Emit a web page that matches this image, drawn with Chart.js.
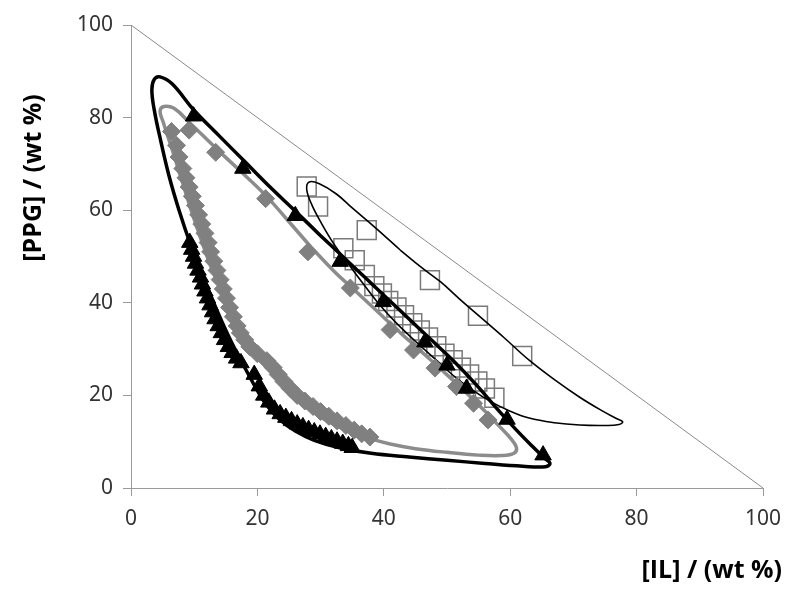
<!DOCTYPE html>
<html lang="en">
<head>
  <meta charset="UTF-8">
  <title>IL / PPG binodal</title>
  <script src="https://cdn.jsdelivr.net/npm/chart.js"></script>
  <style>
    html, body { margin: 0; padding: 0; background: #fff; }
    #wrap { width: 800px; height: 600px; }
  </style>
</head>
<body>
  <div id="wrap"><canvas id="chart" width="800" height="600"></canvas></div>

  <script>
    // [IL] wt%, [PPG] wt%
    const triangles = [
      [9.9, 80.3], [17.7, 69], [26, 58.8], [33.1, 48.9], [39.9, 40.2], [46.5, 31.5],
      [50, 26.5], [53.1, 21.5], [59.5, 14.8], [65.2, 7.1],
      [9.3, 53], [9.6, 51.5], [9.9, 50], [10.2, 48.5], [10.6, 47], [11, 45.5], [11.3, 44],
      [11.7, 42.5], [12.1, 41], [12.5, 39.5], [12.9, 38], [13.3, 36.5], [13.8, 35],
      [14.3, 33.5], [14.8, 32], [15.4, 30.5], [16, 29.2], [16.7, 28], [17.4, 27],
      [19.5, 24.5], [20.3, 22], [21, 20], [21.8, 18.5], [22.7, 17], [23.6, 16], [24.5, 15.2],
      [25.4, 14.5], [26.3, 13.8], [27.2, 13.2], [28.1, 12.6], [29, 12.1], [29.9, 11.6],
      [30.8, 11.1], [31.7, 10.6], [32.6, 10.1], [33.5, 9.6], [34.4, 9.1], [35, 8.7]
    ];
    const diamonds = [
      [6.4, 77], [9.2, 77.3], [13.4, 72.5], [21.3, 62.5], [28, 51], [34.7, 43.2],
      [41, 34.2], [44.7, 29.8], [48.1, 25.9], [51.5, 21.9], [54.2, 18.3], [56.5, 14.7],
      [7.2, 74], [7.6, 71.5], [8.2, 69], [8.7, 67], [9.2, 65], [9.7, 63], [10.2, 61],
      [10.7, 59], [11.2, 57], [11.7, 55], [12.2, 53], [12.6, 51], [13.1, 49], [13.6, 47],
      [14.1, 45], [14.6, 43], [15.1, 41], [15.6, 39], [16.2, 37], [16.8, 35], [17.3, 33.5],
      [18, 32], [18.8, 30.5], [20, 29], [21.5, 27.5], [22.5, 26], [23.3, 24.5], [24.2, 23],
      [25.2, 21.5], [26.3, 20], [27.5, 18.8], [28.8, 17.6], [30, 16.5], [31.3, 15.5],
      [32.6, 14.5], [34, 13.5], [35.3, 12.5], [36.5, 11.7], [37.8, 11]
    ];
    const squares = [
      [27.8, 65.1], [29.6, 60.8], [37.3, 55.7], [33.6, 51.8], [35.4, 49.2], [37, 46],
      [38.5, 43.6], [39.7, 42], [40.7, 40.4], [42, 39], [43.2, 37.3], [44.5, 35.6],
      [45.7, 34], [47, 32.5], [48.3, 30.6], [49.6, 29], [50.9, 27.6], [52.2, 26],
      [53.5, 24.5], [54.8, 23], [56, 21.5], [57.5, 19.5], [47.3, 44.9], [54.9, 37.2],
      [61.9, 28.5]
    ];
    const blackFit = [
      [30, 54.5], [33.5, 50], [37, 45.5], [40.5, 41], [44, 36.5], [47.5, 32], [51, 27.5],
      [54.5, 22.5], [58, 17], [61, 12.5], [63.5, 9], [65.3, 6.6], [66.3, 5.3], [65.6, 4.6],
      [62, 4.7], [56, 5.3], [50, 6], [44, 6.7], [38, 7.5], [33, 8.7], [29, 10.3], [26, 12.3],
      [23.5, 14.8], [21.4, 18], [19.8, 21.5], [18.4, 25], [16.9, 28.8], [15.2, 33.5],
      [13.4, 39], [11.5, 45.3], [9.5, 52.3], [7.6, 60], [6, 67.5], [4.7, 75], [3.7, 81.5],
      [3.3, 86], [3.7, 88.3], [4.6, 88.8], [6.5, 87.3], [9.9, 81.7], [14, 76], [18, 70.5],
      [22, 65], [26, 59.8], [30, 54.5]
    ];
    const greyFit = [
      [28.5, 52], [32, 47], [35.3, 42.8], [38.7, 38.5], [42, 34.3], [45.5, 30], [49, 25.7],
      [52.5, 21.3], [55.7, 17], [58.3, 13.3], [60.2, 10.5], [61, 8.7], [60.6, 7.5], [58.7, 7],
      [55, 7.1], [50, 7.7], [45, 8.5], [41, 9.5], [38, 10.6], [35, 12], [32, 13.8], [29, 16.2],
      [26.3, 19], [23.8, 22.3], [21.6, 26], [19.7, 29.5], [17.8, 33.3], [16, 37.5],
      [14.3, 42.5], [12.6, 48], [11, 54], [9.4, 60.5], [7.8, 67.5], [6.3, 74], [5.1, 79],
      [4.6, 81.4], [5.2, 82.4], [6.8, 82], [9.2, 79], [13.5, 73.3], [17.5, 68.2],
      [21.3, 63.2], [25, 57.5], [28.5, 52]
    ];
    const thinFit = [
      [42.6, 51.4], [46, 47.6], [49, 44.5], [52, 40.8], [55.2, 37], [59, 32.5], [63, 27.6],
      [67, 23.4], [71, 19.6], [74.5, 16.7], [76.8, 15], [77.8, 14.3], [77.2, 13.7],
      [75, 13.5], [71, 13.6], [67, 14.1], [63, 15.1], [60, 16.6], [57, 18.6], [54, 21.2],
      [51, 24.3], [48, 28], [45, 31.7], [42, 35.6], [39.2, 39.8], [36.8, 44], [34.5, 48.2],
      [32.2, 52.5], [30.2, 57], [28.6, 61.2], [27.8, 64.5], [28.2, 66.1], [29.8, 65.7],
      [32.5, 63.5], [35, 60.5], [38.6, 56.3], [42.6, 51.4]
    ];
    const diagonal = [[0, 100], [100, 0]];
    const tickValues = [0, 20, 40, 60, 80, 100];

    const toXY = arr => arr.map(p => ({ x: p[0], y: p[1] }));

    const tickFont = { family: "'Noto Sans', sans-serif", size: 21 };
    const axisGrey = '#9a9a9a';

    // axis titles sit off-centre in the original, so draw them by hand
    const titles = {
      id: 'titles',
      afterDraw(chart) {
        const ctx = chart.ctx;
        ctx.save();
        ctx.fillStyle = '#000';
        ctx.font = "bold 25px 'Open Sans', sans-serif";
        ctx.textAlign = 'right';
        ctx.textBaseline = 'middle';
        ctx.fillText('[IL] / (wt %)', 782, 571);
        ctx.translate(34, 178);
        ctx.rotate(-Math.PI / 2);
        ctx.textAlign = 'center';
        ctx.fillText('[PPG] / (wt %)', 0, 0);
        ctx.restore();
      }
    };

    function axis() {
      return {
        type: 'linear',
        min: 0,
        max: 100,
        afterBuildTicks: s => { s.ticks = tickValues.map(v => ({ value: v })); },
        ticks: { font: tickFont, color: '#333', padding: 10 },
        grid: { drawOnChartArea: false, drawTicks: true, tickLength: 8, color: axisGrey },
        border: { color: axisGrey, width: 1 }
      };
    }

    const xAxis = axis();
    xAxis.afterFit = s => { s.height = 112; };
    const yAxis = axis();
    yAxis.afterFit = s => { s.width = 131; };

    new Chart(document.getElementById('chart'), {
      type: 'scatter',
      data: {
        datasets: [
          {
            label: 'triangles', data: toXY(triangles), order: 1,
            pointStyle: 'triangle', pointRadius: 9.5, pointBackgroundColor: '#000',
            pointBorderColor: '#000', pointBorderWidth: 1
          },
          {
            label: 'diamonds', data: toXY(diamonds), order: 2,
            pointStyle: 'rectRot', pointRadius: 9, pointBackgroundColor: '#808080',
            pointBorderColor: '#808080', pointBorderWidth: 1
          },
          {
            label: 'black fit', data: toXY(blackFit), order: 3, showLine: true,
            borderColor: '#000', borderWidth: 3.5, pointRadius: 0, tension: 0.4
          },
          {
            label: 'grey fit', data: toXY(greyFit), order: 4, showLine: true,
            borderColor: '#8c8c8c', borderWidth: 3.5, pointRadius: 0, tension: 0.4
          },
          {
            label: 'thin fit', data: toXY(thinFit), order: 5, showLine: true,
            borderColor: '#000', borderWidth: 1.6, pointRadius: 0, tension: 0.4
          },
          {
            label: 'squares', data: toXY(squares), order: 6,
            pointStyle: 'rect', pointRadius: 13.4, pointBackgroundColor: 'rgba(0,0,0,0)',
            pointBorderColor: '#7a7a7a', pointBorderWidth: 1.5
          },
          {
            label: 'diagonal', data: toXY(diagonal), order: 7, showLine: true,
            borderColor: '#8a8a8a', borderWidth: 1, pointRadius: 0
          }
        ]
      },
      options: {
        responsive: false,
        animation: false,
        layout: { padding: { left: 0, top: 25, right: 37, bottom: 0 } },
        plugins: { legend: { display: false }, tooltip: { enabled: false } },
        scales: { x: xAxis, y: yAxis }
      },
      plugins: [titles]
    });
  </script>
</body>
</html>
